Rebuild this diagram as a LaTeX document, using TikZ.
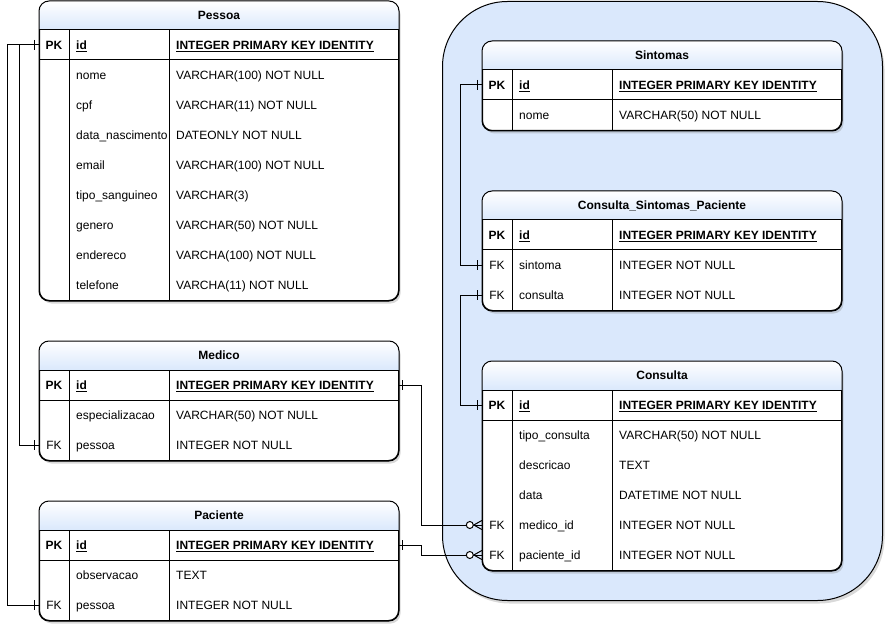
\documentclass[tikz,border=0pt]{standalone}
\usepackage{fontspec}
\setmainfont{Liberation Sans}
\usetikzlibrary{shadows}
\definecolor{hdrblue}{RGB}{218,232,252}
\definecolor{grpblue}{RGB}{218,232,252}
\tikzset{
  tablebody/.style={draw, line width=1pt, rounded corners=10pt, fill=white, inner sep=0pt,
    drop shadow={shadow xshift=2pt, shadow yshift=-3pt, opacity=0.3}},
  txt/.style={inner sep=0pt, font=\fontsize{12}{14}\selectfont, text height=8.6pt, text depth=0pt},
  txtb/.style={txt, font=\fontsize{12}{14}\selectfont\bfseries},
  rowbox/.style={minimum width=359pt, minimum height=30pt, inner sep=0pt},
  conn/.style={line width=1pt},
  gridline/.style={line width=1pt},
}
\newcommand\ertable[6]{%
  \pgfmathsetmacro\tbh{59+30*#5}%
  \node[tablebody, minimum width=359pt, minimum height=\tbh pt, anchor=north west] (#1) at (#2,#3) {};
  \begin{scope}
    \clip[rounded corners=10pt] (#1.north west) rectangle (#1.south east);
    \shade[top color=white, bottom color=hdrblue] (#1.north west) rectangle ([yshift=-29pt]#1.north east);
  \end{scope}
  \draw[gridline] ([yshift=-29pt]#1.north west) -- ([yshift=-29pt]#1.north east)
    ([yshift=-59pt]#1.north west) -- ([yshift=-59pt]#1.north east)
    ([shift={(30pt,-29pt)}]#1.north west) -- ([xshift=30pt]#1.south west)
    ([shift={(130pt,-29pt)}]#1.north west) -- ([xshift=130pt]#1.south west);
  \draw[gridline, rounded corners=10pt] (#1.north west) rectangle (#1.south east);
  \node[txtb] (#1-title) at ([yshift=-14.5pt]#1.north) {#4};
  \node[rowbox] (#1-0) at (#2+179.5,#3+44) {};
  \node[txtb] (#1-k0) at (#2+15,#3+44) {PK};
  \node[txtb, anchor=west] (#1-f0) at (#2+37,#3+44) {\underline{id}};
  \node[txtb, anchor=west] (#1-t0) at (#2+137,#3+44) {\underline{INTEGER PRIMARY KEY IDENTITY}};
  \foreach \rk/\rf/\rt [count=\i] in {#6} {
    \node[rowbox] (#1-\i) at (#2+179.5,#3+44+30*\i) {};
    \node[txt] (#1-k\i) at (#2+15,#3+44+30*\i) {\rk};
    \node[txt, anchor=west] (#1-f\i) at (#2+37,#3+44+30*\i) {\rf};
    \node[txt, anchor=west] (#1-t\i) at (#2+137,#3+44+30*\i) {\rt};
  }%
}
\newcommand\onetick[2]{\draw[conn] ([xshift=#2]#1) ++(0,-5) -- ++(0,10);}
\newcommand\manyopt[1]{%
  \draw[conn] ([xshift=-8pt]#1) -- ([yshift=4.5pt]#1) ([xshift=-8pt]#1) -- ([yshift=-4.5pt]#1);
  \draw[conn, fill=white] ([xshift=-12pt]#1) circle (3.5pt);}
\begin{document}
\begin{tikzpicture}[x=1pt, y=-1pt]
\useasboundingbox (0,0) rectangle (896,636);
\node[draw, line width=1pt, rounded corners=65pt, fill=grpblue, minimum width=440pt, minimum height=599pt,
  inner sep=0pt, anchor=north west, drop shadow={shadow xshift=2pt, shadow yshift=-3pt, opacity=0.3}] (grupo) at (442,1) {};

\ertable{pessoa}{39}{1}{Pessoa}{8}{/nome/VARCHAR(100) NOT NULL, /cpf/VARCHAR(11) NOT NULL, /data\_nascimento/DATEONLY NOT NULL, /email/VARCHAR(100) NOT NULL, /tipo\_sanguineo/VARCHAR(3), /genero/VARCHAR(50) NOT NULL, /endereco/VARCHA(100) NOT NULL, /telefone/VARCHA(11) NOT NULL}
\ertable{medico}{39}{341}{Medico}{2}{/especializacao/VARCHAR(50) NOT NULL, FK/pessoa/INTEGER NOT NULL}
\ertable{paciente}{39}{501}{Paciente}{2}{/observacao/TEXT, FK/pessoa/INTEGER NOT NULL}
\ertable{sintomas}{482}{41}{Sintomas}{1}{/nome/VARCHAR(50) NOT NULL}
\ertable{csp}{482}{191}{Consulta\_Sintomas\_Paciente}{2}{FK/sintoma/INTEGER NOT NULL, FK/consulta/INTEGER NOT NULL}
\ertable{consulta}{482}{361}{Consulta}{5}{/tipo\_consulta/VARCHAR(50) NOT NULL, /descricao/TEXT, /data/DATETIME NOT NULL, FK/medico\_id/INTEGER NOT NULL, FK/paciente\_id/INTEGER NOT NULL}

\draw[conn] (pessoa-0.west) -- ++(-19,0) |- (medico-2.west);
\draw[conn] (pessoa-0.west) -- ++(-31,0) |- (paciente-2.west);
\draw[conn] (medico-0.east) -- ++(23,0) |- (consulta-4.west);
\draw[conn] (paciente-0.east) -- ++(23,0) |- (consulta-5.west);
\draw[conn] (sintomas-0.west) -- ++(-21,0) |- (csp-1.west);
\draw[conn] (consulta-0.west) -- ++(-21,0) |- (csp-2.west);

\onetick{pessoa-0.west}{-4pt}
\onetick{medico-2.west}{-4pt}
\onetick{paciente-2.west}{-4pt}
\onetick{medico-0.east}{4pt}
\onetick{paciente-0.east}{4pt}
\onetick{sintomas-0.west}{-4pt}
\onetick{csp-1.west}{-4pt}
\onetick{csp-2.west}{-4pt}
\onetick{consulta-0.west}{-4pt}
\manyopt{consulta-4.west}
\manyopt{consulta-5.west}
\end{tikzpicture}
\end{document}
